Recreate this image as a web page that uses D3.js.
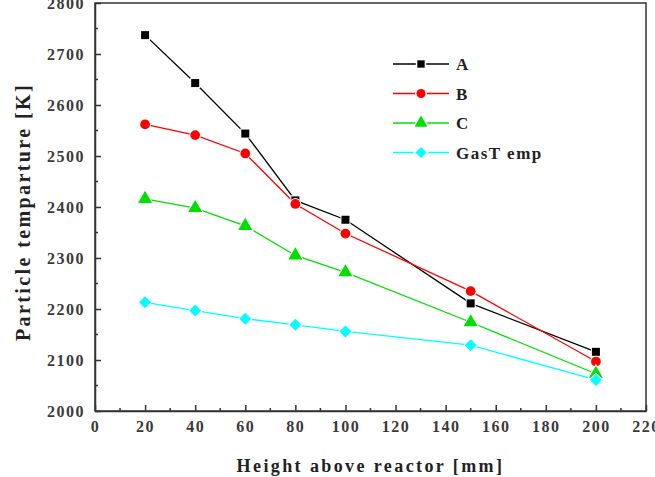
<!DOCTYPE html>
<html>
<head>
<meta charset="utf-8">
<script src="https://cdn.jsdelivr.net/npm/d3@7"></script>
<style>
  body { margin: 0; background: #fff; }
  text { font-family: "Liberation Serif", "DejaVu Serif", serif; font-weight: bold; }
</style>
</head>
<body>
<svg id="chart"></svg>
<script>
// data
var heights = [20, 40, 60, 80, 100, 150, 200];
var seriesA = [2737, 2643, 2544, 2413, 2375, 2211, 2116];
var seriesB = [2562, 2541, 2505, 2406, 2348, 2235, 2097];
var seriesC = [2416, 2398, 2363, 2305, 2272, 2174, 2073];
var gasTemp = [2213, 2197, 2181, 2169, 2156, 2129, 2061];
var seriesNames = ["A", "B", "C", "GasT emp"];
var seriesColors = ["#000000", "#ff0000", "#00e000", "#00ffff"];
var xTicks = d3.range(0, 221, 20);
var yTicks = d3.range(2000, 2801, 100);

var margin = {top: 3, right: 9, bottom: 66, left: 95},
    W = 655, H = 477,
    width = W - margin.left - margin.right,
    height = H - margin.top - margin.bottom;

var x = d3.scaleLinear().domain([0, 220]).range([0, width]);
var y = d3.scaleLinear().domain([2000, 2800]).range([height, 0]);

var svg = d3.select("#chart").attr("width", W).attr("height", H);
var g = svg.append("g")
    .attr("transform", "translate(" + margin.left + "," + margin.top + ")");

// frame
g.append("rect")
    .attr("width", width).attr("height", height)
    .attr("fill", "none").attr("stroke", "#333").attr("stroke-width", 1.5);

// minor ticks
g.selectAll(".xminor").data(d3.range(10, 220, 20)).enter().append("line")
    .attr("x1", function(d) { return x(d); }).attr("x2", function(d) { return x(d); })
    .attr("y1", height).attr("y2", height - 3)
    .attr("stroke", "#333").attr("stroke-width", 1.5);
g.selectAll(".yminor").data(d3.range(2050, 2800, 100)).enter().append("line")
    .attr("y1", function(d) { return y(d); }).attr("y2", function(d) { return y(d); })
    .attr("x1", 0).attr("x2", 3)
    .attr("stroke", "#333").attr("stroke-width", 1.5);

// axes
var xAxis = g.append("g")
    .attr("transform", "translate(0," + height + ")")
    .call(d3.axisBottom(x).tickValues(xTicks).tickFormat(d3.format("d"))
      .tickSizeInner(-6).tickSizeOuter(0).tickPadding(10));
var yAxis = g.append("g")
    .call(d3.axisLeft(y).tickValues(yTicks).tickFormat(d3.format("d"))
      .tickSizeInner(-6).tickSizeOuter(0).tickPadding(10));

[xAxis, yAxis].forEach(function(ax) {
  ax.select(".domain").attr("stroke", "#333").attr("stroke-width", 1.5);
  ax.selectAll(".tick line").attr("stroke", "#333").attr("stroke-width", 1.5);
  ax.selectAll(".tick text")
    .attr("fill", "#3a3a3a")
    .style("font-size", "16px")
    .style("letter-spacing", "1.5px")
    .style("font-family", "Liberation Serif, serif")
    .style("font-weight", "bold");
});

// axis titles
svg.append("text")
    .attr("x", margin.left + x(110)).attr("y", 472)
    .attr("text-anchor", "middle")
    .style("font-size", "18px").style("letter-spacing", "2.4px")
    .attr("fill", "#222")
    .text("Height above reactor [mm]");
svg.append("text")
    .attr("transform", "translate(30," + 212 + ") rotate(-90)")
    .attr("text-anchor", "middle")
    .style("font-size", "20px").style("letter-spacing", "2.4px")
    .attr("fill", "#222")
    .text("Particle temparture [K]");

// marker shapes (diamond = square turned 45 degrees)
var symbols = [d3.symbolSquare, d3.symbolCircle, d3.symbolTriangle, d3.symbolSquare];
var sizes = [64, 75, 85, 72];
var turns = [0, 0, 0, 45];

var allSeries = [seriesA, seriesB, seriesC, gasTemp];

var line = d3.line()
    .x(function(d, i) { return x(heights[i]); })
    .y(function(d) { return y(d); });

allSeries.forEach(function(vals, s) {
  g.append("path")
      .datum(vals)
      .attr("fill", "none")
      .attr("stroke", seriesColors[s])
      .attr("stroke-width", 1.3)
      .attr("d", line);
});

allSeries.forEach(function(vals, s) {
  g.selectAll(".m" + s).data(vals).enter().append("path")
      .attr("transform", function(d, i) {
        return "translate(" + x(heights[i]) + "," + y(d) + ") rotate(" + turns[s] + ")";
      })
      .attr("d", d3.symbol().type(symbols[s]).size(sizes[s]))
      .attr("fill", seriesColors[s])
      .attr("stroke", "#fff")
      .attr("stroke-width", 2)
      .attr("paint-order", "stroke");
});

// legend
var legend = svg.append("g").attr("transform", "translate(393,64)");
seriesNames.forEach(function(name, s) {
  var row = legend.append("g").attr("transform", "translate(0," + (s * 29.5) + ")");
  row.append("line").attr("x1", 0).attr("x2", 56).attr("y1", 0).attr("y2", 0)
      .attr("stroke", seriesColors[s]).attr("stroke-width", 1.3);
  row.append("path")
      .attr("transform", "translate(28,0) rotate(" + turns[s] + ")")
      .attr("d", d3.symbol().type(symbols[s]).size(sizes[s] * 0.85))
      .attr("fill", seriesColors[s])
      .attr("stroke", "#fff").attr("stroke-width", 3).attr("paint-order", "stroke");
  row.append("text")
      .attr("x", 63).attr("y", 6)
      .style("font-size", "17px").style("letter-spacing", "1.5px")
      .attr("fill", "#222")
      .text(name);
});
</script>
</body>
</html>
